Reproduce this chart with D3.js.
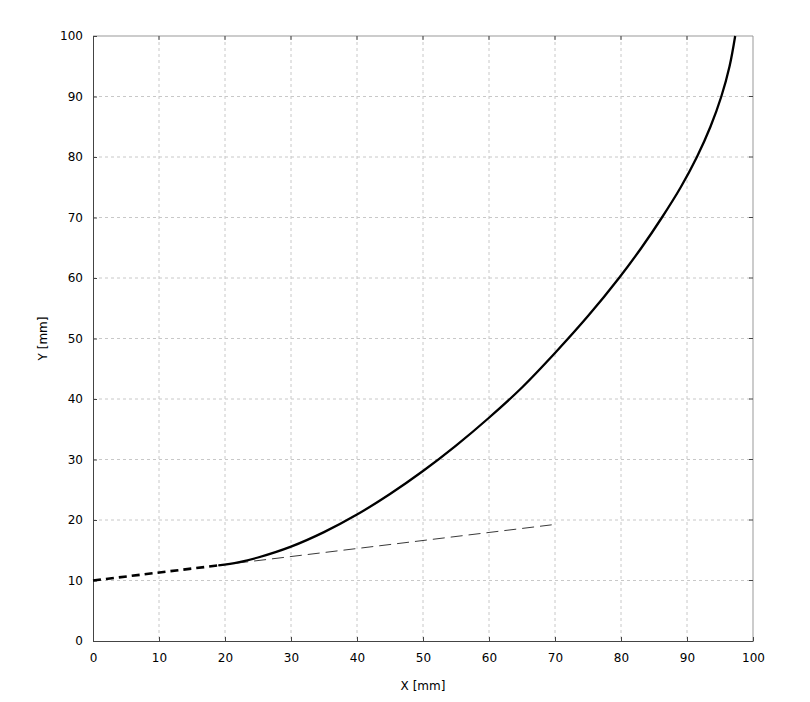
<!DOCTYPE html>
<html><head><meta charset="utf-8">
<script src="https://cdn.jsdelivr.net/npm/d3@7"></script>
<style>body{margin:0;background:#fff}svg{display:block}text{font-family:"DejaVu Sans",Verdana,sans-serif;font-size:12px;fill:#000}</style>
</head><body><svg id="c" width="810" height="702"></svg>
<script>
const xTicks=[0,10,20,30,40,50,60,70,80,90,100];
const yTicks=[0,10,20,30,40,50,60,70,80,90,100];
const curveX=[19,22,25,30,35,40,45,50,55,60,65,70,75,79.7,83.1,86.2,89.05,91.5,93.55,95.2,96.45,97.3];
const curveY=[12.5,13.0,13.8,15.6,18.0,20.9,24.3,28.1,32.3,36.9,41.9,47.6,53.7,60,65,70,75,80,85,90,95,100];
const startX=[0,19];
const startY=[10,12.5];
const tangentX=[19,69.5];
const tangentY=[12.5,19.2];

const svg=d3.select("#c");
const L=93,R=753,T=36,B=641;
const x=d3.scaleLinear().domain([0,100]).range([L,R]);
const y=d3.scaleLinear().domain([0,100]).range([B,T]);

// grid
svg.append("g").selectAll("line").data(xTicks.slice(1,-1)).join("line")
 .attr("x1",d=>x(d)).attr("x2",d=>x(d)).attr("y1",T).attr("y2",B)
 .attr("stroke","#c8c8c8").attr("stroke-dasharray","3,3");
svg.append("g").selectAll("line").data(yTicks.slice(1,-1)).join("line")
 .attr("y1",d=>y(d)).attr("y2",d=>y(d)).attr("x1",L).attr("x2",R)
 .attr("stroke","#c8c8c8").attr("stroke-dasharray","3,3");

// frame top/right
svg.append("line").attr("x1",L).attr("x2",R).attr("y1",T).attr("y2",T).attr("stroke","#999");
svg.append("line").attr("x1",R).attr("x2",R).attr("y1",T).attr("y2",B).attr("stroke","#999");

// axes
const xa=svg.append("g").attr("transform",`translate(0,${B})`)
 .call(d3.axisBottom(x).tickValues(xTicks).tickSizeInner(-4).tickSizeOuter(0).tickPadding(12));
const ya=svg.append("g").attr("transform",`translate(${L},0)`)
 .call(d3.axisLeft(y).tickValues(yTicks).tickSizeInner(-4).tickSizeOuter(0).tickPadding(10));
[xa,ya].forEach(a=>{a.select(".domain").attr("stroke","#444");a.selectAll(".tick line").attr("stroke","#444");
 a.selectAll("text").attr("font-family","DejaVu Sans, Verdana, sans-serif").attr("font-size",12).attr("fill","#000");});
// inward ticks on top and right
svg.append("g").selectAll("line").data(xTicks.slice(1,-1)).join("line")
 .attr("x1",d=>x(d)).attr("x2",d=>x(d)).attr("y1",T).attr("y2",T+4).attr("stroke","#444");
svg.append("g").selectAll("line").data(yTicks.slice(1,-1)).join("line")
 .attr("y1",d=>y(d)).attr("y2",d=>y(d)).attr("x1",R).attr("x2",R-4).attr("stroke","#444");

// axis labels
svg.append("text").attr("x",(L+R)/2).attr("y",690).attr("text-anchor","middle").text("X [mm]");
svg.append("text").attr("transform",`translate(47,${(T+B)/2}) rotate(-90)`).attr("text-anchor","middle").text("Y [mm]");

const line=d3.line().x(d=>x(d[0])).y(d=>y(d[1]));
// tangent thin dashed
svg.append("path").datum(d3.zip(tangentX,tangentY)).attr("d",line)
 .attr("fill","none").attr("stroke","#222").attr("stroke-width",0.9).attr("stroke-dasharray","12,6");
// starting thick dashed
svg.append("path").datum(d3.zip(startX,startY)).attr("d",line)
 .attr("fill","none").attr("stroke","#000").attr("stroke-width",2.6).attr("stroke-dasharray","8,5");
// main curve
svg.append("path").datum(d3.zip(curveX,curveY)).attr("d",d3.line().x(d=>x(d[0])).y(d=>y(d[1])).curve(d3.curveCatmullRom.alpha(0.5)))
 .attr("fill","none").attr("stroke","#000").attr("stroke-width",2.3);
</script></body></html>
